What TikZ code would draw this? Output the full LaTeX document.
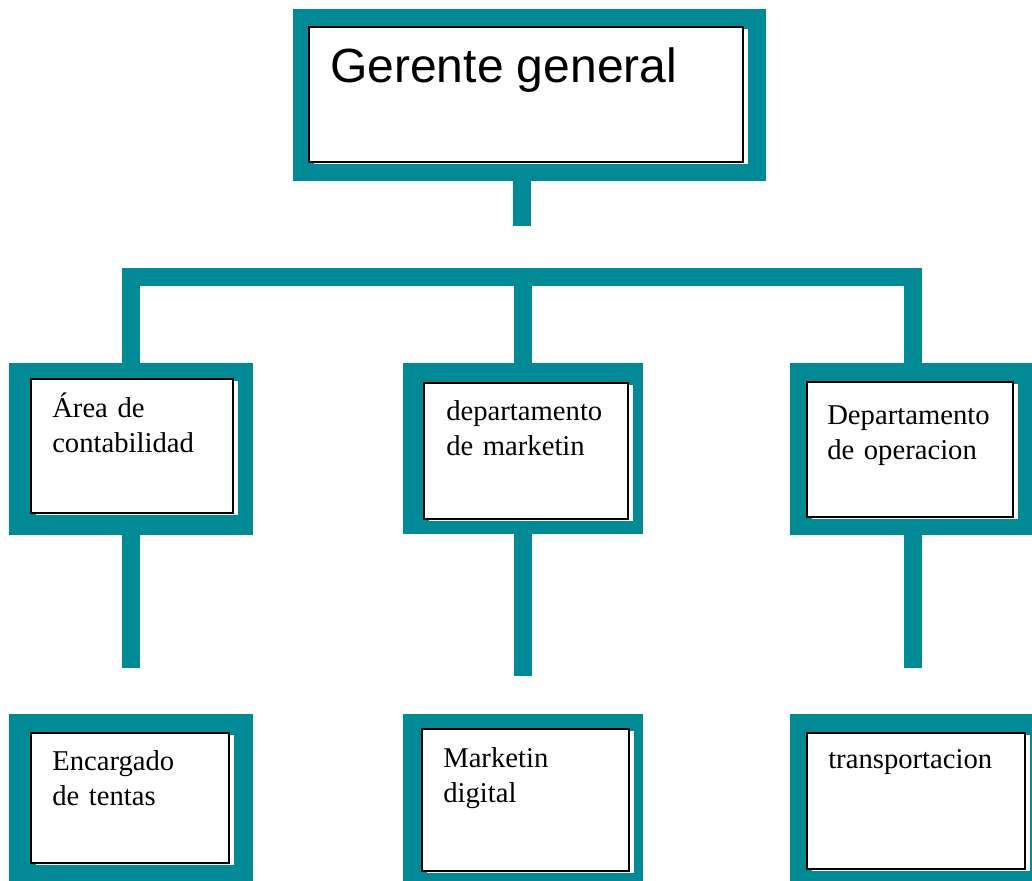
\documentclass[tikz,border=0pt]{standalone}
\usepackage{fontspec}
\setmainfont{Liberation Serif}
\newfontfamily\arial{Liberation Sans}
\usetikzlibrary{fit,shadows}
\definecolor{petroleo}{RGB}{2,137,150}

\begin{document}
\begin{tikzpicture}[x=0.75pt,y=-0.75pt,
  marco/.style={rectangle,fill=petroleo,inner sep=0pt},
  caja/.style={rectangle,draw=black,fill=white,inner sep=0pt,line width=0.8pt,
    drop shadow={fill=white,opacity=1,shadow xshift=3.5pt,shadow yshift=-1.5pt}},
  texto/.style={anchor=base west,inner sep=0pt,text width=165pt,align=left,font=\fontsize{21.5}{26.5}\selectfont},
  tubo/.style={draw=petroleo,line width=13.5pt}]
  \useasboundingbox (0,0) rectangle (1032,881);
  \clip (0,0) rectangle (1032,881);

  \node[marco,fit={(293,9) (766,181)}] (gerente) {};
  \node[caja,fit={(309,27) (743,162)}] (cgerente) {};
  \node[anchor=base west,inner sep=0pt,font=\arial\fontsize{36}{43}\selectfont] (tgerente) at (330,83) {Gerente general};

  \node[marco,fit={(9,363) (253,535)}] (area) {};
  \node[caja,fit={(31,379) (233,513)}] (carea) {};
  \node[texto] (tarea) at (52,417) {Área de\\contabilidad};

  \node[marco,fit={(403,363) (643,534)}] (marketing) {};
  \node[caja,fit={(424,383) (628,519)}] (cmarketing) {};
  \node[texto] (tmarketing) at (446,420) {departamento\\de marketin};

  \node[marco,fit={(790,363) (1036,535)}] (operacion) {};
  \node[caja,fit={(807,382) (1013,517)}] (coperacion) {};
  \node[texto] (toperacion) at (827,424) {Departamento\\de operacion};

  \node[marco,fit={(9,714) (253,895)}] (ventas) {};
  \node[caja,fit={(31,733) (229,863)}] (cventas) {};
  \node[texto] (tventas) at (52,770) {Encargado\\de tentas};

  \node[marco,fit={(403,714) (643,895)}] (digital) {};
  \node[caja,fit={(422,729) (629,871)}] (cdigital) {};
  \node[texto] (tdigital) at (443,767) {Marketin\\digital};

  \node[marco,fit={(790,714) (1036,895)}] (transporte) {};
  \node[caja,fit={(807,733) (1025,869)}] (ctransporte) {};
  \node[texto] (ttransporte) at (828,768) {transportacion};

  \coordinate (tope) at (522,226);
  \coordinate (barra) at (522,277);
  \coordinate (pie1) at (131,668);
  \coordinate (pie2) at (522,676);
  \coordinate (pie3) at (913,668);

  \draw[tubo] (tope |- gerente.south) -- (tope);
  \draw[tubo] (area.north) |- (barra) -| (operacion.north);
  \draw[tubo] (marketing.north) -- (marketing.north |- barra);
  \draw[tubo] (area.south) -- (area.south |- pie1);
  \draw[tubo] (marketing.south) -- (marketing.south |- pie2);
  \draw[tubo] (operacion.south) -- (operacion.south |- pie3);
\end{tikzpicture}
\end{document}
